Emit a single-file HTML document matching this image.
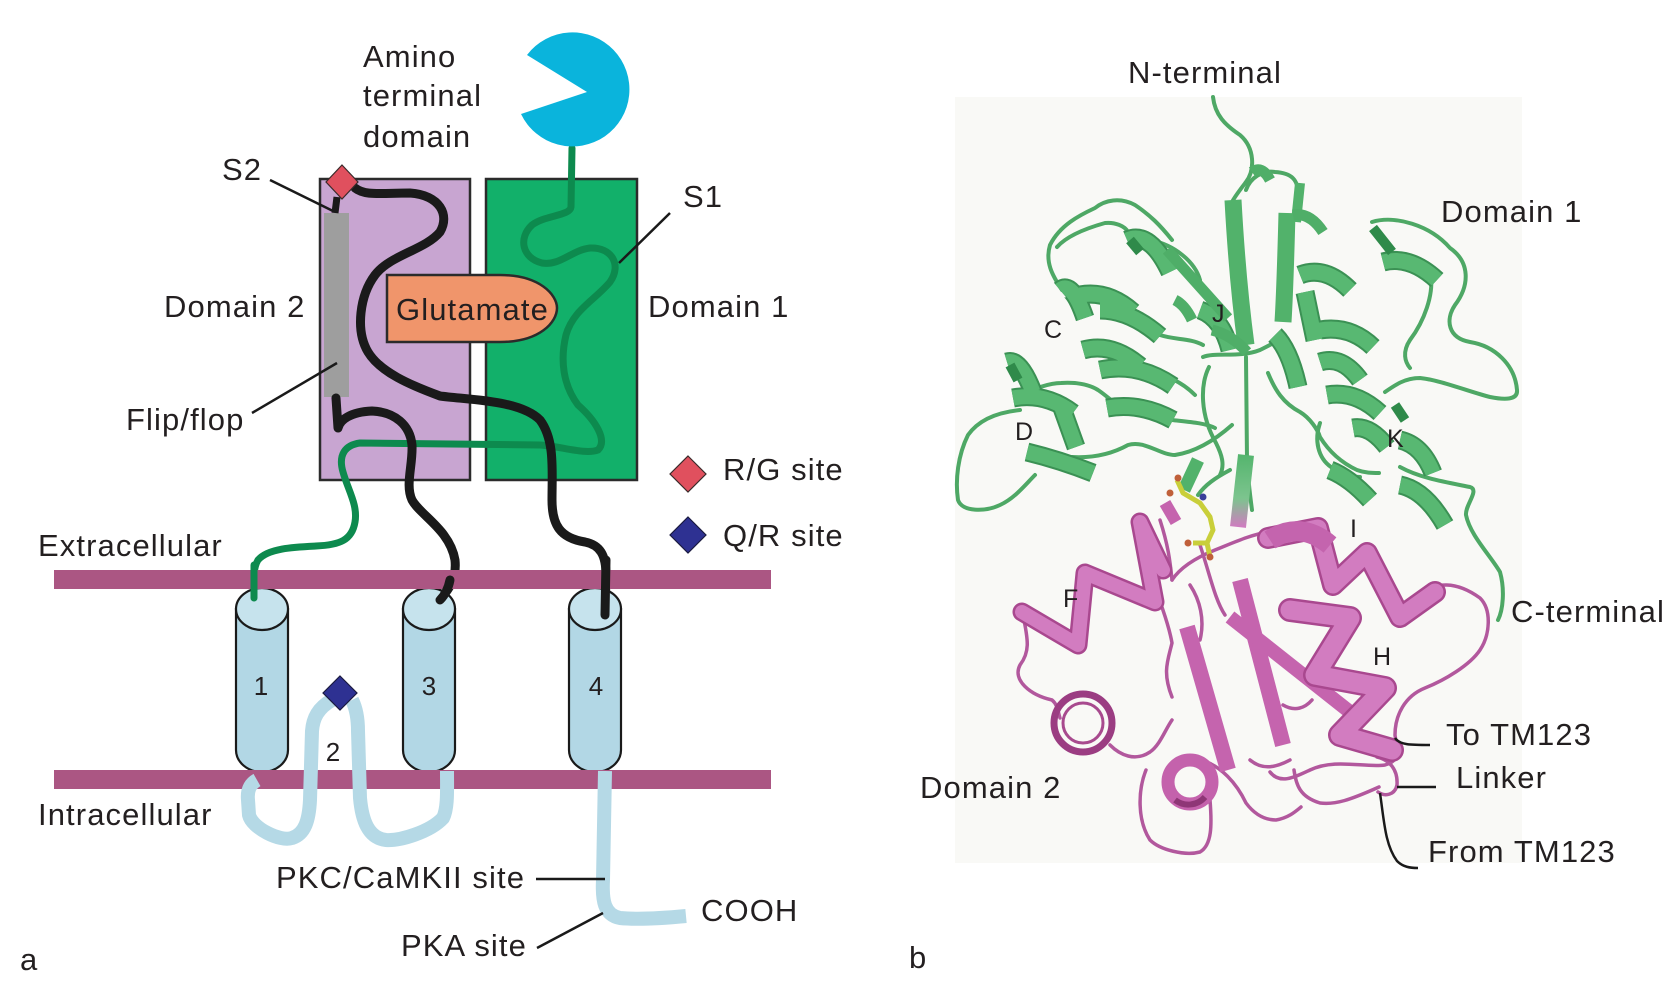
<!DOCTYPE html>
<html><head><meta charset="utf-8"><style>
html,body{margin:0;padding:0;background:#fff;}
svg{display:block;}
.t{font-family:"Liberation Sans",Arial,sans-serif;font-size:31px;letter-spacing:1.1px;fill:#231f20;}
.s{font-family:"Liberation Sans",Arial,sans-serif;font-size:25px;fill:#231f20;}
</style></head><body>
<svg width="1676" height="998" viewBox="0 0 1676 998" xmlns="http://www.w3.org/2000/svg">
<rect width="1676" height="998" fill="#ffffff"/>

<!-- ===== Panel a ===== -->
<rect x="320" y="179" width="150" height="301" fill="#c8a5d1" stroke="#2b2b2b" stroke-width="2.5"/>
<rect x="486" y="179" width="151" height="301" fill="#12b06a" stroke="#2b2b2b" stroke-width="2.5"/>
<rect x="324" y="213" width="25" height="184" fill="#9e9e9e"/>
<path d="M387 275 L500 275 C540 275 557 295 557 308 C557 322 540 342 500 342 L387 342 Z" fill="#f0956b" stroke="#2b2b2b" stroke-width="2.5"/>
<text class="t" x="396" y="320">Glutamate</text>

<path d="M572 148 L571 207 C570 216 545 215 532 225 C518 238 522 258 542 263 C560 266 572 250 590 248 C612 247 622 265 610 282 C595 300 573 310 566 335 C560 360 563 385 578 405 C595 420 608 440 598 450 C585 455 560 446 540 445 L360 443 C345 445 338 455 343 472 C348 490 358 505 355 522 C352 540 340 545 316 546 C295 547 268 548 258 560 C252 570 254 585 254 598" fill="none" stroke="#0d8a4e" stroke-width="7" stroke-linecap="round" stroke-linejoin="round"/>

<path d="M355 188 C365 196 380 193 410 193 C440 195 450 215 440 232 C425 250 390 255 375 275 C360 295 355 330 368 352 C380 372 410 385 440 396 C470 400 520 400 540 420 C555 440 552 470 552 500 C552 525 560 538 585 542 C600 545 606 555 606 575 L605 615" fill="none" stroke="#1a1a1a" stroke-width="9" stroke-linecap="round" stroke-linejoin="round"/>
<path d="M336 398 L338 428 C340 420 350 412 372 411 C395 412 410 425 412 445 C413 465 405 485 412 500 C420 515 450 530 455 560 C457 580 448 590 440 600" fill="none" stroke="#1a1a1a" stroke-width="9" stroke-linecap="round" stroke-linejoin="round"/>
<path d="M337 197 L335 213" stroke="#1a1a1a" stroke-width="7"/>

<path d="M342 165 L358 182 L342 199 L326 182 Z" fill="#e0505e" stroke="#3a2a2a" stroke-width="1.2"/>
<path d="M587 92 L527 55 A57 57 0 1 1 521 114 Z" fill="#0ab4dc"/>

<line x1="270" y1="180" x2="333" y2="211" stroke="#1a1a1a" stroke-width="2.5"/>
<line x1="670" y1="213" x2="619" y2="263" stroke="#1a1a1a" stroke-width="2.5"/>
<line x1="252" y1="413" x2="337" y2="363" stroke="#1a1a1a" stroke-width="2.5"/>

<path d="M688 456 L706 474 L688 492 L670 474 Z" fill="#e0505e" stroke="#3a2a2a" stroke-width="1.2"/>
<path d="M688 517 L706 535 L688 553 L670 535 Z" fill="#2e3192" stroke="#1a1a40" stroke-width="1.2"/>

<g stroke="#1a1a1a" stroke-width="2.2">
<path d="M236 609 L236 750 A26 22 0 0 0 288 750 L288 609 Z" fill="#b2d7e5"/>
<ellipse cx="262" cy="609" rx="26" ry="21" fill="#c6e3ed"/>
<path d="M403 609 L403 750 A26 22 0 0 0 455 750 L455 609 Z" fill="#b2d7e5"/>
<ellipse cx="429" cy="609" rx="26" ry="21" fill="#c6e3ed"/>
<path d="M569 609 L569 750 A26 22 0 0 0 621 750 L621 609 Z" fill="#b2d7e5"/>
<ellipse cx="595" cy="609" rx="26" ry="21" fill="#c6e3ed"/>
</g>

<rect x="54" y="570" width="717" height="19" fill="#ab5683"/>
<rect x="54" y="770" width="717" height="19" fill="#ab5683"/>

<path d="M254 565 L254 598" fill="none" stroke="#0d8a4e" stroke-width="7" stroke-linecap="round"/>
<path d="M450 580 C448 590 444 596 440 600" fill="none" stroke="#1a1a1a" stroke-width="9" stroke-linecap="round"/>
<path d="M606 560 L605 615" fill="none" stroke="#1a1a1a" stroke-width="9" stroke-linecap="round"/>

<g fill="none" stroke="#b5d9e6" stroke-width="14" stroke-linejoin="round">
<path d="M257 780 C250 784 247 790 248 800 L249 815 C252 828 280 842 292 838 C305 834 309 820 310 800 L312 731 C313 718 318 708 332 700"/>
<path d="M352 700 C356 708 358 718 358 731 L360 798 C362 820 368 838 386 840 C400 841 430 832 443 818 C448 808 447 790 447 771"/>
<path d="M605 771 L603 880 C602 900 604 915 620 918 C640 920 665 918 686 916"/>
</g>
<path d="M340 676 L357 693 L340 710 L323 693 Z" fill="#2e3192" stroke="#1a1a40" stroke-width="1.2"/>

<line x1="536" y1="879" x2="605" y2="879" stroke="#1a1a1a" stroke-width="2.5"/>
<line x1="537" y1="948" x2="603" y2="913" stroke="#1a1a1a" stroke-width="2.5"/>

<text class="t" x="363" y="67">Amino</text>
<text class="t" x="363" y="106">terminal</text>
<text class="t" x="363" y="147">domain</text>
<text class="t" x="222" y="180">S2</text>
<text class="t" x="683" y="207">S1</text>
<text class="t" x="164" y="317">Domain 2</text>
<text class="t" x="648" y="317">Domain 1</text>
<text class="t" x="126" y="430">Flip/flop</text>
<text class="t" x="723" y="480">R/G site</text>
<text class="t" x="723" y="546">Q/R site</text>
<text class="t" x="38" y="556">Extracellular</text>
<text class="t" x="38" y="825">Intracellular</text>
<text class="s" x="261" y="695" text-anchor="middle" style="font-size:26px">1</text>
<text class="s" x="429" y="695" text-anchor="middle" style="font-size:26px">3</text>
<text class="s" x="596" y="695" text-anchor="middle" style="font-size:26px">4</text>
<text class="s" x="333" y="761" text-anchor="middle" style="font-size:26px">2</text>
<text class="t" x="276" y="888">PKC/CaMKII site</text>
<text class="t" x="401" y="956">PKA site</text>
<text class="t" x="701" y="921">COOH</text>
<text class="t" x="20" y="970">a</text>

<!-- ===== Panel b ===== -->
<rect x="955" y="97" width="567" height="766" fill="#f9f9f6"/>
<defs>
<linearGradient id="gp" x1="0" y1="0" x2="0" y2="1">
<stop offset="0" stop-color="#55b56e"/><stop offset="0.6" stop-color="#7cc48e"/><stop offset="1" stop-color="#d07cc0"/>
</linearGradient>
</defs>

<!-- green loops -->
<g fill="none" stroke="#4ea865" stroke-width="4" stroke-linecap="round" stroke-linejoin="round">
<path d="M1213 97 C1215 115 1225 125 1240 135 C1255 148 1255 170 1246 182 C1236 195 1228 205 1229 215"/>
<path d="M1246 190 C1250 178 1262 170 1275 172 C1290 173 1300 178 1298 200"/>
<path d="M1172 240 C1160 225 1150 215 1135 205 C1120 197 1105 200 1095 208 C1080 215 1060 225 1050 245 C1045 262 1052 275 1062 290"/>
<path d="M1057 247 C1065 238 1080 230 1105 223 C1115 222 1125 226 1128 232"/>
<path d="M1020 410 C1000 412 980 418 968 435 C958 455 955 480 958 500 C962 512 985 512 1000 505 C1015 498 1025 485 1035 475"/>
<path d="M1072 457 C1090 458 1110 455 1128 445 C1145 440 1160 455 1175 455 C1195 452 1215 440 1232 425"/>
<path d="M1017 397 C1035 388 1050 383 1061 383 C1078 382 1090 385 1098 390 C1110 398 1118 408 1128 410 C1145 415 1160 420 1172 420 C1190 422 1205 423 1215 428"/>
<path d="M1246 357 L1247 460 C1248 480 1250 495 1252 510"/>
<path d="M1209 367 C1200 385 1200 415 1216 443 C1222 455 1225 465 1220 475"/>
<path d="M1203 357 C1215 352 1240 358 1260 350 C1270 345 1280 340 1285 335"/>
<path d="M1372 222 C1395 215 1430 225 1450 248 C1470 262 1470 285 1455 305 C1445 320 1448 338 1470 342 C1495 346 1515 365 1517 390 C1518 400 1505 400 1490 397 C1470 392 1440 380 1420 378 C1405 378 1395 385 1385 392"/>
<path d="M1431 277 C1433 295 1425 320 1410 340 C1402 352 1405 362 1410 368"/>
<path d="M1268 373 C1275 390 1283 403 1300 412 C1310 418 1318 430 1320 437 C1328 450 1340 462 1357 470 C1365 473 1372 473 1379 473"/>
<path d="M1320 423 C1314 440 1318 458 1331 467 C1340 474 1350 477 1360 477"/>
<path d="M1400 467 C1420 478 1445 482 1470 487 C1480 490 1465 505 1466 515 C1470 535 1490 555 1500 572 C1505 590 1503 610 1498 620"/>
<path d="M1150 240 C1175 245 1195 262 1200 280"/>
<path d="M1160 335 C1175 340 1190 338 1203 345"/>
<path d="M1140 370 C1160 372 1180 380 1195 395"/>
<path d="M1230 470 C1215 478 1205 485 1198 495"/>
</g>

<!-- green strands -->
<g fill="none" stroke="#52b26b" stroke-linecap="butt">
<path d="M1233 200 C1236 255 1240 300 1246 345" stroke-width="17"/>
<path d="M1287 213 C1286 250 1285 290 1283 322" stroke-width="17"/>
<path d="M1300 183 L1296 222" stroke-width="10"/>
<path d="M1198 460 L1184 490" stroke-width="13"/>
</g>
<path d="M1246 455 L1238 527" fill="none" stroke="url(#gp)" stroke-width="16"/>

<!-- green helix bands: dark edge then light -->
<g fill="none" stroke="#3b9154" stroke-width="19" stroke-linecap="butt">
<path d="M1060 290 Q1072 280 1085 318"/>
<path d="M1080 295 Q1108 290 1133 312"/>
<path d="M1100 310 Q1130 310 1160 336"/>
<path d="M1083 350 Q1112 342 1140 366"/>
<path d="M1100 370 Q1138 362 1173 386"/>
<path d="M1107 408 Q1140 402 1173 420"/>
<path d="M1127 240 Q1150 230 1170 272"/>
<path d="M1200 310 Q1222 318 1230 350"/>
<path d="M1300 275 Q1325 265 1350 290"/>
<path d="M1305 292 L1315 340"/>
<path d="M1275 335 Q1290 350 1298 387"/>
<path d="M1320 330 Q1350 325 1373 347"/>
<path d="M1320 362 Q1342 355 1360 380"/>
<path d="M1327 395 Q1355 390 1380 413"/>
<path d="M1353 428 Q1370 425 1387 447"/>
<path d="M1400 440 Q1422 445 1433 473"/>
<path d="M1383 262 Q1410 255 1437 280"/>
<path d="M1007 362 Q1020 358 1033 392"/>
<path d="M1013 398 Q1045 392 1073 413"/>
<path d="M1062 408 L1076 447"/>
<path d="M1027 452 Q1060 460 1093 473"/>
<path d="M1400 485 Q1425 490 1445 525"/>
<path d="M1330 470 Q1350 478 1370 500"/>
</g>
<g fill="none" stroke="#58b872" stroke-width="15" stroke-linecap="butt">
<path d="M1060 290 Q1072 280 1085 318"/>
<path d="M1080 295 Q1108 290 1133 312"/>
<path d="M1100 310 Q1130 310 1160 336"/>
<path d="M1083 350 Q1112 342 1140 366"/>
<path d="M1100 370 Q1138 362 1173 386"/>
<path d="M1107 408 Q1140 402 1173 420"/>
<path d="M1127 240 Q1150 230 1170 272"/>
<path d="M1200 310 Q1222 318 1230 350"/>
<path d="M1300 275 Q1325 265 1350 290"/>
<path d="M1305 292 L1315 340"/>
<path d="M1275 335 Q1290 350 1298 387"/>
<path d="M1320 330 Q1350 325 1373 347"/>
<path d="M1320 362 Q1342 355 1360 380"/>
<path d="M1327 395 Q1355 390 1380 413"/>
<path d="M1353 428 Q1370 425 1387 447"/>
<path d="M1400 440 Q1422 445 1433 473"/>
<path d="M1383 262 Q1410 255 1437 280"/>
<path d="M1007 362 Q1020 358 1033 392"/>
<path d="M1013 398 Q1045 392 1073 413"/>
<path d="M1062 408 L1076 447"/>
<path d="M1027 452 Q1060 460 1093 473"/>
<path d="M1400 485 Q1425 490 1445 525"/>
<path d="M1330 470 Q1350 478 1370 500"/>
</g>
<g fill="none" stroke="#4fae68" stroke-width="11">
<path d="M1167 250 L1228 318"/>
<path d="M1175 300 Q1185 305 1192 320"/>
<path d="M1212 330 Q1232 335 1247 352"/>
<path d="M1252 172 Q1262 165 1270 180"/>
<path d="M1293 215 Q1310 212 1323 232"/>
</g>
<g fill="none" stroke="#2f8a4a" stroke-width="10">
<path d="M1373 228 L1392 252"/>
<path d="M1130 240 L1140 252"/>
<path d="M1395 405 L1405 420"/>
<path d="M1010 365 L1018 380"/>
</g>

<!-- magenta loops -->
<g fill="none" stroke="#b2589d" stroke-width="3.5" stroke-linecap="round" stroke-linejoin="round">
<path d="M1024 620 C1028 640 1030 652 1020 665 C1012 680 1030 695 1052 700 C1058 705 1058 712 1060 718"/>
<path d="M1110 745 C1120 755 1135 762 1150 752 C1160 745 1165 730 1172 720"/>
<path d="M1172 580 C1180 568 1195 558 1215 550 C1235 542 1250 535 1268 532"/>
<path d="M1157 590 C1160 605 1168 620 1172 643 C1168 660 1162 672 1172 697"/>
<path d="M1424 593 C1435 583 1455 580 1480 598 C1492 610 1490 635 1480 650 C1470 665 1445 680 1425 688 C1405 696 1395 715 1395 735 C1397 750 1402 760 1385 765 C1365 768 1335 758 1310 770 C1295 777 1280 785 1270 772"/>
<path d="M1377 757 C1390 760 1398 770 1397 785 C1395 795 1385 797 1378 792"/>
<path d="M1146 770 C1138 790 1137 820 1150 840 C1160 850 1185 856 1200 852 C1212 845 1212 825 1210 800"/>
<path d="M1209 763 C1220 768 1235 780 1246 803 C1255 815 1265 820 1276 820 C1288 818 1295 812 1301 807"/>
<path d="M1294 770 C1296 785 1300 797 1320 803 C1335 805 1350 800 1379 787"/>
<path d="M1190 585 C1200 600 1205 620 1200 640"/>
<path d="M1283 705 C1295 712 1305 708 1312 700"/>
<path d="M1250 760 C1262 770 1275 768 1290 760"/>
<path d="M1160 520 C1168 545 1170 560 1172 580"/>
<path d="M1200 545 C1210 575 1215 600 1225 615"/>
</g>
<circle cx="1083" cy="723" r="29" fill="none" stroke="#9b3d82" stroke-width="7"/>
<circle cx="1083" cy="723" r="20" fill="none" stroke="#a84a8e" stroke-width="3"/>
<circle cx="1190" cy="782" r="22" fill="none" stroke="#c462ac" stroke-width="13"/>
<path d="M1175 800 A22 22 0 0 0 1205 797" fill="none" stroke="#8e3676" stroke-width="6"/>

<!-- magenta strands -->
<g fill="none" stroke="#c564ae" stroke-linecap="butt">
<path d="M1187 627 L1228 770" stroke-width="16"/>
<path d="M1240 580 L1283 745" stroke-width="16"/>
<path d="M1230 617 L1350 712" stroke-width="14"/>
<path d="M1165 503 L1176 522" stroke-width="12"/>
</g>
<!-- magenta helices -->
<g fill="none" stroke="#a9488f" stroke-linejoin="round" stroke-linecap="round">
<polyline stroke-width="19" points="1022,612 1078,645 1085,573 1155,602 1140,522 1163,570"/>
<polyline stroke-width="22" points="1268,538 1318,528 1333,585 1367,553 1400,617 1435,592"/>
<polyline stroke-width="24" points="1290,610 1350,618 1315,675 1385,688 1340,735 1392,750"/>
</g>
<g fill="none" stroke="#d27cc0" stroke-linejoin="round" stroke-linecap="round">
<polyline stroke-width="14" points="1022,612 1078,645 1085,573 1155,602 1140,522 1163,570"/>
<polyline stroke-width="17" points="1268,538 1318,528 1333,585 1367,553 1400,617 1435,592"/>
<polyline stroke-width="19" points="1290,610 1350,618 1315,675 1385,688 1340,735 1392,750"/>
</g>
<path d="M1270 540 Q1300 520 1330 545" fill="none" stroke="#c464ae" stroke-width="20"/>

<!-- glutamate ligand -->
<polyline points="1177,480 1183,493 1200,503 1210,517 1213,530 1207,543 1193,543" fill="none" stroke="#c9cf3a" stroke-width="5" stroke-linejoin="round"/>
<line x1="1207" y1="543" x2="1210" y2="557" stroke="#c9cf3a" stroke-width="5"/>
<circle cx="1203" cy="497" r="3.5" fill="#3a3f9a"/>
<circle cx="1178" cy="478" r="3.5" fill="#c0603a"/>
<circle cx="1170" cy="493" r="3.5" fill="#c0603a"/>
<circle cx="1188" cy="543" r="3.5" fill="#c0603a"/>
<circle cx="1210" cy="557" r="3.5" fill="#c0603a"/>

<g fill="none" stroke="#1a1a1a" stroke-width="2.5">
<path d="M1395 738 C1400 745 1410 745 1430 745"/>
<path d="M1397 787 L1436 787"/>
<path d="M1380 793 C1384 820 1385 845 1397 861 C1403 867 1410 868 1418 868"/>
</g>

<text class="t" x="1128" y="83">N-terminal</text>
<text class="t" x="1441" y="222">Domain 1</text>
<text class="s" x="1044" y="338">C</text>
<text class="s" x="1212" y="322">J</text>
<text class="s" x="1015" y="440">D</text>
<text class="s" x="1387" y="447">K</text>
<text class="s" x="1350" y="537">I</text>
<text class="s" x="1063" y="607">F</text>
<text class="t" x="1511" y="622">C-terminal</text>
<text class="s" x="1373" y="665">H</text>
<text class="t" x="1446" y="745">To TM123</text>
<text class="t" x="1456" y="788">Linker</text>
<text class="t" x="1428" y="862">From TM123</text>
<text class="t" x="920" y="798">Domain 2</text>
<text class="t" x="909" y="968">b</text>
</svg>
</body></html>
